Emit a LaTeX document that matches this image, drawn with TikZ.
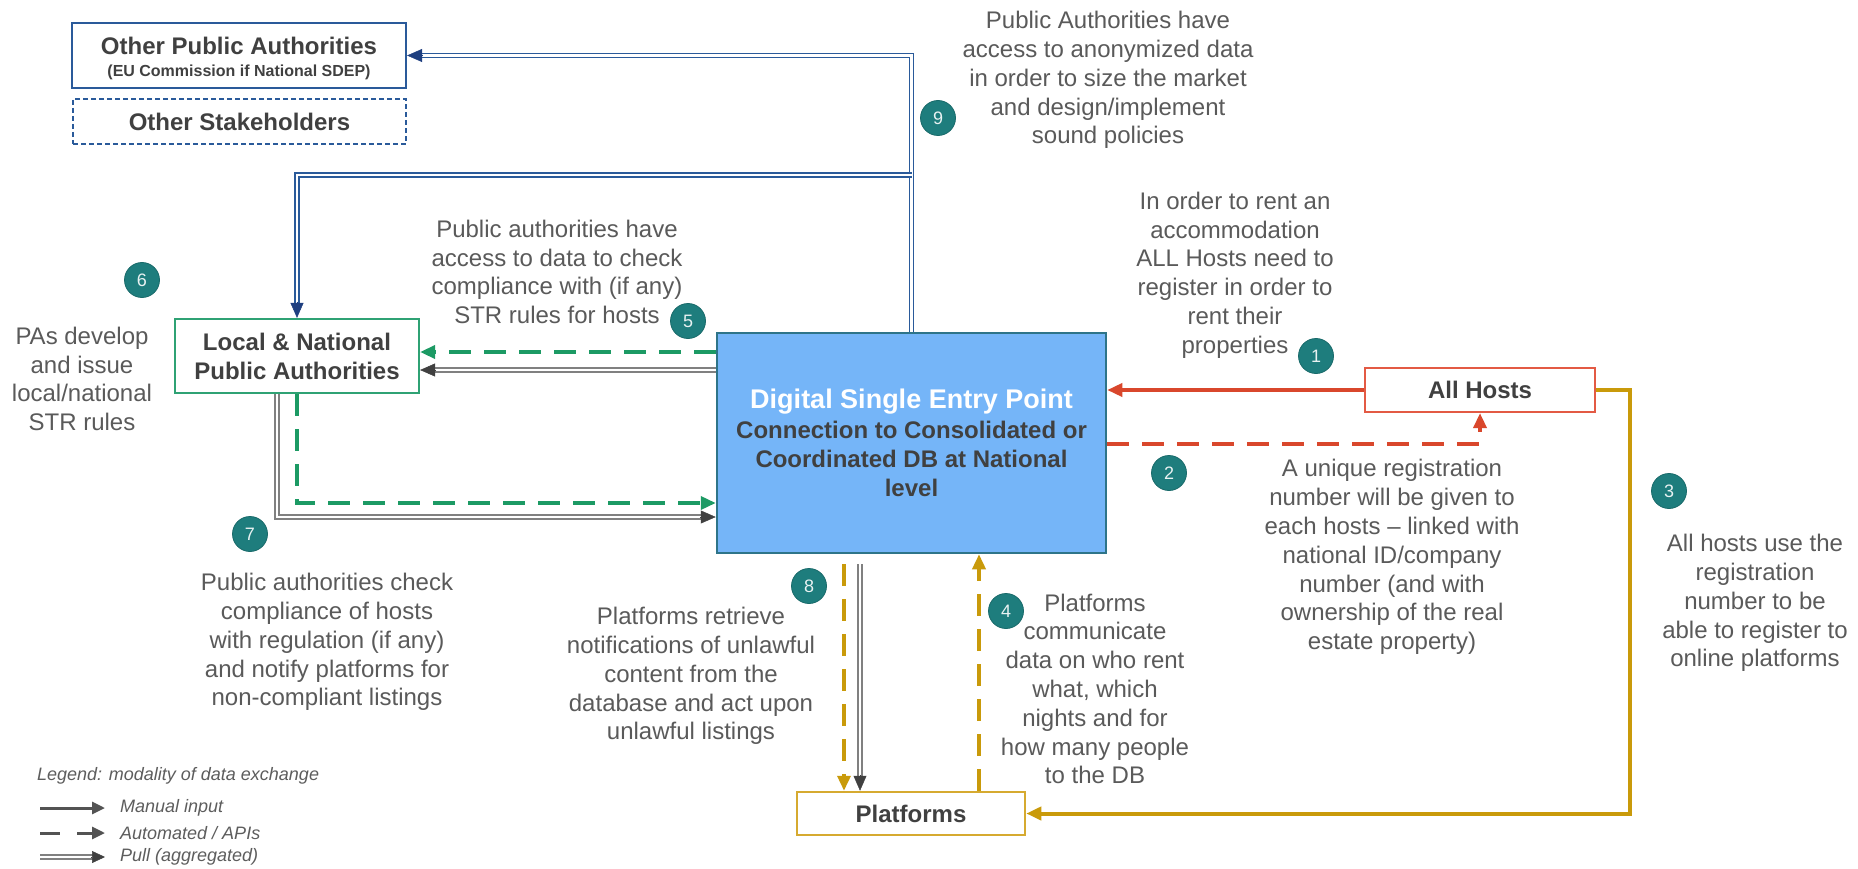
\documentclass[tikz,border=0pt]{standalone}
\usepackage{fontspec}
\setmainfont{Liberation Sans}
\usetikzlibrary{arrows.meta,calc}
\definecolor{txt}{HTML}{5A5A5A}
\definecolor{lbl}{HTML}{404040}
\definecolor{teal9}{HTML}{1E7D7D}
\definecolor{pblue}{HTML}{2A5A9A}
\definecolor{pbluedark}{HTML}{1F3F80}
\definecolor{gr}{HTML}{1C9A64}
\definecolor{lngreen}{HTML}{2FA274}
\definecolor{rd}{HTML}{D9472C}
\definecolor{hostred}{HTML}{E35A44}
\definecolor{gold}{HTML}{C99A0A}
\definecolor{platgold}{HTML}{D6AA30}
\definecolor{dsepfill}{HTML}{75B5F8}
\definecolor{dsepborder}{HTML}{2E7489}
\definecolor{pullgray}{HTML}{808080}
\definecolor{tipgray}{HTML}{404040}
\begin{document}
\begin{tikzpicture}[x=1pt,y=-1pt,
  desc/.style={text=txt, align=center, inner sep=0pt, font=\fontsize{24}{28.8}\selectfont},
  box/.style={draw, line width=2.2pt, fill=white, inner sep=0pt, text=lbl, align=center, font=\fontsize{24}{29}\selectfont\bfseries},
  badge/.style={circle, fill=teal9, draw=teal9!85!black, line width=0.8pt, minimum size=35pt, inner sep=0pt, text=white!90!teal9, font=\fontsize{18}{18}\selectfont},
  tipT/.style={-{Triangle[length=15pt,width=13pt]}},
  manual/.style={line width=3.5pt, tipT},
  autoline/.style={line width=3.5pt, dash pattern=on 22pt off 13pt, tipT},
  pull/.style={double=white, line width=1.6pt, double distance=2.2pt},
  tip/.style={line width=0.5pt, -{Triangle[length=15pt,width=13pt]}},
  legtxt/.style={anchor=west, inner sep=0pt, text=lbl!85!white, font=\fontsize{18}{18}\selectfont\itshape}
]
\useasboundingbox (0,0) rectangle (1858,869);
\fill[white] (0,0) rectangle (1858,869);

% boxes
\node[box, draw=pblue, minimum width=334pt, minimum height=65pt] (OPA) at (239,55.5)
  {\rule{0pt}{22.5pt}Other Public Authorities\\[-7pt]{\fontsize{16}{18}\selectfont\bfseries (EU Commission if National SDEP)}};
\node[box, draw=pblue, line width=1.8pt, dash pattern=on 5pt off 3pt, minimum width=333pt, minimum height=45pt] (OS) at (239.5,121.5) {Other Stakeholders};
\node[box, draw=lngreen, minimum width=244pt, minimum height=74pt] (LN) at (297,356) {Local \& National\\Public Authorities};
\node[box, draw=dsepborder, fill=dsepfill, line width=2.5pt, minimum width=389pt, minimum height=220pt] (DSEP) at (911.5,443)
  {{\fontsize{27}{30}\selectfont\color{white}Digital Single Entry Point}\\[1pt]Connection to Consolidated or\\Coordinated DB at National\\level};
\node[box, draw=hostred, minimum width=230pt, minimum height=44pt] (AH) at (1480,390) {All Hosts};
\node[box, draw=platgold, line width=2.5pt, minimum width=228pt, minimum height=43pt] (PL) at (911,813.5) {Platforms};

% 9: blue pull lines
\coordinate (j9) at (911.5,175);
\draw[pull, draw=pblue, shorten >=14pt] (DSEP.north) |- (OPA.east);
\draw[tip, pbluedark] ($(OPA.east)+(16,0)$) -- (OPA.east);
\draw[pull, draw=pblue, shorten >=14pt] (j9) -| (LN.north);
\draw[tip, pbluedark] ($(LN.north)+(0,-16)$) -- (LN.north);

% 5: DSEP -> LN
\draw[autoline, gr] (DSEP.west |- 0,352) -- (LN.east |- 0,352);
\draw[pull, draw=pullgray, shorten >=14pt] (DSEP.west |- 0,370) -- (LN.east |- 0,370);
\draw[tip, tipgray] ($(LN.east |- 0,370)+(16,0)$) -- (LN.east |- 0,370);

% 7: LN -> DSEP
\draw[autoline, gr] (LN.south) |- (DSEP.west |- 0,503);
\coordinate (g7) at ($(LN.south)+(-20,0)$);
\draw[pull, draw=pullgray, shorten >=14pt] (g7) |- (DSEP.west |- 0,517);
\draw[tip, tipgray] ($(DSEP.west |- 0,517)+(-16,0)$) -- (DSEP.west |- 0,517);

% 1 and 2: hosts
\draw[manual, rd] (AH.west) -- (DSEP.east |- AH.west);
\draw[autoline, rd] (DSEP.east |- 0,444) -| (AH.south);

% 3: hosts -> platforms
\coordinate (gc) at (1630,813.5);
\draw[line width=4pt, gold, tipT] (AH.east) -| (gc) -- (PL.east);

% 8: DSEP -> platforms
\draw[autoline, gold, shorten <=10pt] ($(DSEP.south)+(-67.5,0)$) -- ($(PL.north)+(-67,0)$);
\draw[pull, draw=pullgray, shorten <=10pt, shorten >=14pt] ($(DSEP.south)+(-51.5,0)$) -- ($(PL.north)+(-51,0)$);
\draw[tip, tipgray] ($(PL.north)+(-51,-16)$) -- ($(PL.north)+(-51,0)$);

% 4: platforms -> DSEP
\draw[autoline, gold] ($(PL.north)+(68,0)$) -- ($(DSEP.south)+(67.5,0)$);

% badges
\node[badge] (b1) at (1316,356) {1};
\node[badge] (b2) at (1169,473) {2};
\node[badge] (b3) at (1669,491) {3};
\node[badge] (b4) at (1006,611) {4};
\node[badge] (b5) at (688,321) {5};
\node[badge] (b6) at (142,280) {6};
\node[badge] (b7) at (250,534) {7};
\node[badge] (b8) at (809,586) {8};
\node[badge] (b9) at (938,118) {9};

% descriptions
\node[desc] (t9) at (1108,80) {Public Authorities have\\access to anonymized data\\in order to size the market\\and design/implement\\sound policies};
\node[desc] (t1) at (1235,275) {In order to rent an\\accommodation\\ALL Hosts need to\\register in order to\\rent their\\properties};
\node[desc] (t2) at (1392,557) {A unique registration\\number will be given to\\each hosts -- linked with\\national ID/company\\number (and with\\ownership of the real\\estate property)};
\node[desc] (t3) at (1755,603) {All hosts use the\\registration\\number to be\\able to register to\\online platforms};
\node[desc] (t4) at (1095,689) {Platforms\\communicate\\data on who rent\\what, which\\nights and for\\how many people\\to the DB};
\node[desc] (t5) at (557,272) {Public authorities have\\access to data to check\\compliance with (if any)\\STR rules for hosts};
\node[desc] (t6) at (82,379) {PAs develop\\and issue\\local/national\\STR rules};
\node[desc] (t7) at (327,642) {Public authorities check\\compliance of hosts\\with regulation (if any)\\and notify platforms for\\non-compliant listings};
\node[desc] (t8) at (691,676) {Platforms retrieve\\notifications of unlawful\\content from the\\database and act upon\\unlawful listings};

% legend
\node[legtxt] (legT) at (37,776) {Legend: modality of data exchange};
\coordinate (lm1) at (40,808); \coordinate (lm2) at (105,808);
\coordinate (la1) at (40,833); \coordinate (la2) at (105,833);
\coordinate (lp1) at (40,857); \coordinate (lp2) at (105,857);
\draw[line width=3pt, tipgray!90!white, -{Triangle[length=13pt,width=12pt]}] (lm1) -- (lm2);
\draw[line width=3pt, tipgray!90!white, dash pattern=on 20pt off 17pt, -{Triangle[length=13pt,width=12pt]}] (la1) -- (la2);
\draw[pull, draw=pullgray, shorten >=12pt] (lp1) -- (lp2);
\draw[line width=0.5pt, tipgray, -{Triangle[length=13pt,width=12pt]}] ($(lp2)+(-14,0)$) -- (lp2);
\node[legtxt] (lmT) at (120,808) {Manual input};
\node[legtxt] (laT) at (120,833) {Automated / APIs};
\node[legtxt] (lpT) at (120,857) {Pull (aggregated)};
\end{tikzpicture}
\end{document}
